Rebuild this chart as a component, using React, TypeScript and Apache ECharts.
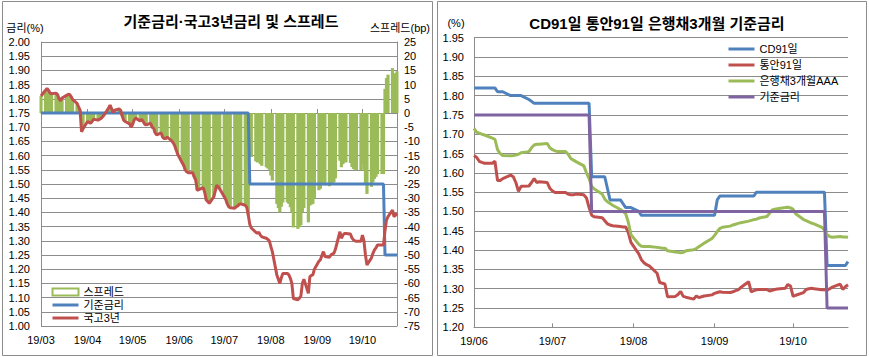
import React, { useEffect, useRef } from "react";
import * as echarts from "echarts";

// ---------- Left chart: 기준금리·국고3년금리 및 스프레드 ----------
const leftTitle = "기준금리·국고3년금리 및 스프레드";
const leftStart = "2019-03-01";
const leftEnd = "2019-10-24";
const leftWeekStart = "2019-02-25"; // Monday of first weekly row (Mon..Fri)

// 국고3년 (%), weekdays Mon..Fri
const gov3Weeks: (number | null)[][] = [
  [null, null, null, null, 1.81],
  [1.83, 1.837, 1.83, 1.82, 1.818],
  [1.82, 1.815, 1.8, 1.793, 1.803],
  [1.812, 1.815, 1.816, 1.808, 1.798],
  [1.784, 1.772, 1.76, 1.684, 1.695],
  [1.72, 1.717, 1.714, 1.72, 1.728],
  [1.725, 1.728, 1.731, 1.737, 1.743],
  [1.767, 1.778, 1.765, 1.752, 1.76],
  [1.764, 1.76, 1.74, 1.725, 1.72],
  [1.712, 1.7, 1.71, 1.725, 1.732],
  [1.722, 1.728, 1.72, 1.711, 1.708],
  [1.714, 1.7, 1.696, 1.68, 1.673],
  [1.68, 1.665, 1.66, 1.66, 1.665],
  [1.652, 1.645, 1.635, 1.62, 1.605],
  [1.575, 1.565, 1.55, 1.543, 1.54],
  [1.54, 1.525, 1.514, 1.478, 1.48],
  [1.487, 1.47, 1.444, 1.438, 1.432],
  [1.455, 1.475, 1.496, 1.49, 1.482],
  [1.455, 1.445, 1.43, 1.42, 1.416],
  [1.415, 1.42, 1.423, 1.428, 1.43],
  [1.425, 1.418, 1.39, 1.358, 1.345],
  [1.33, 1.326, 1.33, 1.32, 1.314],
  [1.309, 1.305, 1.3, 1.28, 1.262],
  [1.18, 1.165, 1.15, 1.17, 1.185],
  [1.185, 1.18, 1.168, 1.15, 1.097],
  [1.092, 1.098, 1.105, 1.15, 1.165],
  [1.115, 1.174, 1.178, 1.18, 1.2],
  [1.228, 1.233, 1.248, 1.262, 1.245],
  [1.242, 1.25, 1.254, 1.256, 1.27],
  [1.332, 1.309, 1.32, 1.326, 1.326],
  [1.324, 1.31, 1.303, 1.3, 1.298],
  [1.298, 1.32, 1.3, 1.25, 1.215],
  [1.24, 1.256, 1.268, 1.275, 1.285],
  [1.285, 1.285, 1.335, 1.373, 1.385],
  [1.408, 1.385, 1.39, 1.397, null],
];

// 스프레드 (bp), weekdays Mon..Fri
const spreadWeeks: (number | null)[][] = [
  [null, null, null, null, 6],
  [8, 8.7, 8, 7, 6.8],
  [7, 6.5, 5, 4.3, 5.3],
  [6.2, 6.5, 6.6, 5.8, 4.8],
  [3.4, 2.2, 1, -6.6, -5.5],
  [-3, -3.3, -3.6, -3, -2.2],
  [-2.5, -2.2, -1.9, -1.3, -0.7],
  [1.7, 2.8, 1.5, 0.2, 1],
  [1.4, 1, -1, -2.5, -3],
  [-3.8, -5, -4, -2.5, -1.8],
  [-2.8, -2.2, -3, -3.9, -4.2],
  [-3.6, -5, -5.4, -7, -7.7],
  [-7, -8.5, -9, -9, -8.5],
  [-9.8, -10.5, -11.5, -13, -14.5],
  [-17.5, -18.5, -20, -20.7, -21],
  [-21, -22.5, -23.6, -27.2, -27],
  [-26.3, -28, -30.6, -31.2, -31.8],
  [-29.5, -27.5, -25.4, -26, -26.8],
  [-29.5, -30.5, -32, -33, -33.4],
  [-33.5, -33, -32.7, -32.2, -32],
  [-32.5, -33.2, -36, -14.2, -15.5],
  [-17, -17.4, -17, -18, -18.6],
  [-19.1, -19.5, -20, -22, -23.8],
  [-32, -33.5, -35, -33, -31.5],
  [-31.5, -32, -33.2, -35, -40.3],
  [-40.8, -40.2, -39.5, -35, -33.5],
  [-38.5, -32.6, -32.2, -32, -30],
  [-27.2, -26.7, -25.2, -23.8, -25.5],
  [-25.8, -25, -24.6, -24.4, -23],
  [-16.8, -19.1, -18, -17.4, -17.4],
  [-17.6, -19, -19.7, -20, -20.2],
  [-20.2, -18, -20, -25, -28.5],
  [-26, -24.4, -23.2, -22.5, -21.5],
  [-21.5, -21.5, 8.5, 12.3, 13.5],
  [15.8, 13.5, 14, 14.7, null],
];

// 기준금리 (%), step points
const baseLeft: [string, number][] = [
  ["2019-03-01", 1.75],
  ["2019-07-17", 1.75],
  ["2019-07-18", 1.5],
  ["2019-10-15", 1.5],
  ["2019-10-16", 1.25],
  ["2019-10-24", 1.25],
];

// ---------- Right chart: CD91일 통안91일 은행채3개월 기준금리 ----------
const rightTitle = "CD91일 통안91일 은행채3개월 기준금리";
const rightStart = "2019-06-03";
const rightEnd = "2019-10-24";
const rightWeekStart = "2019-06-03";

const cd91Weeks: (number | null)[][] = [
  [1.82, 1.82, 1.82, 1.82, 1.82],
  [1.82, 1.82, 1.81, 1.81, 1.81],
  [1.8, 1.8, 1.8, 1.8, 1.8],
  [1.79, 1.785, 1.78, 1.78, 1.78],
  [1.78, 1.78, 1.78, 1.78, 1.78],
  [1.78, 1.78, 1.78, 1.78, 1.78],
  [1.78, 1.78, 1.78, 1.59, 1.59],
  [1.59, 1.59, 1.56, 1.53, 1.53],
  [1.53, 1.52, 1.51, 1.51, 1.51],
  [1.5, 1.49, 1.49, 1.49, 1.49],
  [1.49, 1.49, 1.49, 1.49, 1.49],
  [1.49, 1.49, 1.49, 1.49, 1.49],
  [1.49, 1.49, 1.49, 1.49, 1.49],
  [1.49, 1.49, 1.53, 1.54, 1.54],
  [1.54, 1.54, 1.54, 1.54, 1.54],
  [1.54, 1.54, 1.54, 1.55, 1.55],
  [1.55, 1.55, 1.55, 1.55, 1.55],
  [1.55, 1.55, 1.55, 1.55, 1.55],
  [1.55, 1.55, 1.55, 1.55, 1.55],
  [1.55, 1.55, 1.36, 1.36, 1.36],
  [1.36, 1.36, 1.36, 1.37, null],
];

const msb91Weeks: (number | null)[][] = [
  [1.645, 1.64, 1.63, 1.627, 1.625],
  [1.625, 1.63, 1.58, 1.58, 1.585],
  [1.594, 1.59, 1.575, 1.552, 1.565],
  [1.566, 1.575, 1.585, 1.575, 1.577],
  [1.575, 1.56, 1.553, 1.549, 1.549],
  [1.549, 1.545, 1.543, 1.543, 1.545],
  [1.543, 1.535, 1.51, 1.49, 1.486],
  [1.484, 1.476, 1.468, 1.465, 1.463],
  [1.461, 1.46, 1.46, 1.445, 1.42],
  [1.39, 1.375, 1.367, 1.362, 1.359],
  [1.34, 1.316, 1.314, 1.312, 1.279],
  [1.28, 1.285, 1.293, 1.28, 1.278],
  [1.273, 1.281, 1.277, 1.279, 1.281],
  [1.284, 1.288, 1.29, 1.292, 1.291],
  [1.29, 1.292, 1.295, 1.297, 1.303],
  [1.318, 1.292, 1.295, 1.297, 1.298],
  [1.298, 1.294, 1.296, 1.298, 1.299],
  [1.301, 1.311, 1.307, 1.28, 1.283],
  [1.29, 1.298, 1.3, 1.301, 1.3],
  [1.297, 1.297, 1.296, 1.3, 1.304],
  [1.312, 1.298, 1.305, 1.31, null],
];

const bank3mWeeks: (number | null)[][] = [
  [1.715, 1.705, 1.703, 1.7, 1.698],
  [1.69, 1.687, 1.66, 1.65, 1.645],
  [1.644, 1.645, 1.646, 1.648, 1.652],
  [1.655, 1.665, 1.672, 1.674, 1.674],
  [1.676, 1.665, 1.66, 1.657, 1.655],
  [1.655, 1.648, 1.637, 1.633, 1.629],
  [1.618, 1.6, 1.585, 1.565, 1.558],
  [1.545, 1.532, 1.525, 1.521, 1.516],
  [1.505, 1.5, 1.494, 1.472, 1.44],
  [1.415, 1.41, 1.409, 1.409, 1.409],
  [1.407, 1.406, 1.405, 1.405, 1.398],
  [1.395, 1.394, 1.393, 1.394, 1.398],
  [1.401, 1.404, 1.409, 1.413, 1.418],
  [1.43, 1.438, 1.448, 1.456, 1.459],
  [1.462, 1.465, 1.467, 1.469, 1.471],
  [1.475, 1.477, 1.479, 1.48, 1.483],
  [1.487, 1.495, 1.504, 1.506, 1.507],
  [1.51, 1.511, 1.509, 1.506, 1.494],
  [1.479, 1.476, 1.473, 1.47, 1.468],
  [1.459, 1.452, 1.44, 1.435, 1.433],
  [1.435, 1.434, 1.434, 1.433, null],
];

const baseRight: [string, number][] = [
  ["2019-06-03", 1.75],
  ["2019-07-17", 1.75],
  ["2019-07-18", 1.5],
  ["2019-10-15", 1.5],
  ["2019-10-16", 1.25],
  ["2019-10-24", 1.25],
];

// ---------- helpers ----------
const DAY = 86400000;
function toTime(s: string) {
  return Date.parse(s + "T00:00:00Z");
}
function fmt(t: number) {
  return new Date(t).toISOString().slice(0, 10);
}
function dayList(start: string, end: string) {
  const out: string[] = [];
  for (let t = toTime(start); t <= toTime(end); t += DAY) out.push(fmt(t));
  return out;
}
function indexOf(days: string[]) {
  const m = new Map<string, number>();
  days.forEach((d, i) => m.set(d, i));
  return m;
}
function weekly(weekStart: string, rows: (number | null)[][], idx: Map<string, number>) {
  const out: [number, number][] = [];
  const t0 = toTime(weekStart);
  rows.forEach((row, k) =>
    row.forEach((v, j) => {
      if (v == null) return;
      const i = idx.get(fmt(t0 + (7 * k + j) * DAY));
      if (i !== undefined) out.push([i, v]);
    })
  );
  return out;
}
function pairs(list: [string, number][], idx: Map<string, number>) {
  return list
    .filter(([d]) => idx.has(d))
    .map(([d, v]) => [idx.get(d) as number, v] as [number, number]);
}

const FONT = "'Noto Sans CJK KR', 'Noto Sans', sans-serif";
const NUMFONT = "'Liberation Sans', Arial, sans-serif";
const TXTFONT = "'Liberation Sans', 'Noto Sans CJK KR', sans-serif";
const AXIS = "#8c8c8c";
const GRID = "#8c8c8c";
const BLUE = "#4F81BD";
const RED = "#C0504D";
const GREEN = "#9BBB59";
const PURPLE = "#8064A2";

const monthLabel = (v: string) => v.slice(2, 4) + "/" + v.slice(5, 7);

function buildOption() {
  const leftDays = dayList(leftStart, leftEnd);
  const rightDays = dayList(rightStart, rightEnd);
  const li = indexOf(leftDays);
  const ri = indexOf(rightDays);
  const leftTick = (_: number, v: string) => v.endsWith("-01");
  const rightTick = (_: number, v: string) => v.endsWith("-03");

  const xCommon = (days: string[], tickFn: any, grid: number) => ({
    type: "category",
    gridIndex: grid,
    data: days,
    boundaryGap: false,
    axisLine: { lineStyle: { color: AXIS, width: 1 } },
    axisTick: { show: true, inside: true, length: 4, interval: tickFn, lineStyle: { color: AXIS } },
    axisLabel: {
      interval: tickFn,
      formatter: monthLabel,
      color: "#000",
      fontSize: 11,
      fontFamily: NUMFONT,
      margin: 8,
    },
    splitLine: { show: false },
  });

  const lineLegend = (name: string, color: string) => ({
    name,
    lineStyle: { color, width: 3 },
    itemStyle: { color, opacity: 0, borderWidth: 0 },
  });

  return {
    animation: false,
    backgroundColor: "#fff",
    textStyle: { fontFamily: FONT },
    grid: [
      { left: 41, top: 42, width: 356, height: 284 },
      { left: 474, top: 37.7, width: 374, height: 289.6 },
    ],
    xAxis: [xCommon(leftDays, leftTick, 0), xCommon(rightDays, rightTick, 1)],
    yAxis: [
      {
        type: "value",
        gridIndex: 0,
        min: 1.0,
        max: 2.0,
        interval: 0.05,
        axisLine: { show: true, lineStyle: { color: AXIS } },
        axisTick: { show: false },
        axisLabel: { formatter: (v: number) => v.toFixed(2), color: "#000", fontSize: 11, margin: 11, fontFamily: NUMFONT },
        splitLine: { show: true, lineStyle: { color: GRID, width: 1 } },
      },
      {
        type: "value",
        gridIndex: 0,
        position: "right",
        min: -75,
        max: 25,
        interval: 5,
        axisLine: { show: true, lineStyle: { color: AXIS } },
        axisTick: { show: false },
        axisLabel: { color: "#000", fontSize: 11, margin: 7, fontFamily: NUMFONT },
        splitLine: { show: false },
      },
      {
        type: "value",
        gridIndex: 1,
        min: 1.2,
        max: 1.95,
        interval: 0.05,
        axisLine: { show: true, lineStyle: { color: AXIS } },
        axisTick: { show: false },
        axisLabel: { formatter: (v: number) => v.toFixed(2), color: "#000", fontSize: 11, margin: 10, fontFamily: NUMFONT },
        splitLine: { show: true, lineStyle: { color: GRID, width: 1 } },
      },
    ],
    legend: [
      {
        orient: "vertical",
        left: 51,
        top: 286,
        padding: 0,
        itemWidth: 26,
        itemHeight: 7,
        itemGap: 1,
        selectedMode: false,
        textStyle: { fontSize: 11, color: "#000", fontFamily: TXTFONT, lineHeight: 12 },
        data: [
          { name: "스프레드", icon: "rect", itemStyle: { color: "#ffffff", borderColor: GREEN, borderWidth: 2 } },
          lineLegend("기준금리", BLUE),
          lineLegend("국고3년", RED),
        ],
      },
      {
        orient: "vertical",
        left: 727,
        top: 43,
        padding: 0,
        itemWidth: 26,
        itemHeight: 7,
        itemGap: 4,
        selectedMode: false,
        textStyle: { fontSize: 11, color: "#000", fontFamily: TXTFONT, lineHeight: 12 },
        data: [
          lineLegend("CD91일", BLUE),
          lineLegend("통안91일", RED),
          lineLegend("은행채3개월AAA", GREEN),
          lineLegend("기준금리", PURPLE),
        ],
      },
    ],
    series: [
      {
        name: "스프레드",
        type: "bar",
        xAxisIndex: 0,
        yAxisIndex: 1,
        barWidth: 3.2,
        itemStyle: { color: GREEN },
        data: weekly(leftWeekStart, spreadWeeks, li),
      },
      {
        name: "기준금리",
        type: "line",
        xAxisIndex: 0,
        yAxisIndex: 0,
        symbol: "none",
        lineStyle: { width: 3, color: BLUE },
        itemStyle: { color: BLUE },
        data: pairs(baseLeft, li),
      },
      {
        name: "국고3년",
        type: "line",
        xAxisIndex: 0,
        yAxisIndex: 0,
        symbol: "none",
        lineStyle: { width: 3, color: RED },
        itemStyle: { color: RED },
        data: weekly(leftWeekStart, gov3Weeks, li),
      },
      {
        name: "CD91일",
        type: "line",
        xAxisIndex: 1,
        yAxisIndex: 2,
        symbol: "none",
        lineStyle: { width: 3, color: BLUE },
        itemStyle: { color: BLUE },
        data: weekly(rightWeekStart, cd91Weeks, ri),
      },
      {
        name: "통안91일",
        type: "line",
        xAxisIndex: 1,
        yAxisIndex: 2,
        symbol: "none",
        lineStyle: { width: 3, color: RED },
        itemStyle: { color: RED },
        data: weekly(rightWeekStart, msb91Weeks, ri),
      },
      {
        name: "은행채3개월AAA",
        type: "line",
        xAxisIndex: 1,
        yAxisIndex: 2,
        symbol: "none",
        lineStyle: { width: 3, color: GREEN },
        itemStyle: { color: GREEN },
        data: weekly(rightWeekStart, bank3mWeeks, ri),
      },
      {
        name: "기준금리",
        type: "line",
        xAxisIndex: 1,
        yAxisIndex: 2,
        symbol: "none",
        lineStyle: { width: 3, color: PURPLE },
        itemStyle: { color: PURPLE },
        data: pairs(baseRight, ri),
      },
    ],
    graphic: [
      { type: "rect", silent: true, shape: { x: 2.5, y: 1.5, width: 430, height: 354 }, style: { fill: "none", stroke: AXIS, lineWidth: 1 } },
      { type: "rect", silent: true, shape: { x: 437.5, y: 1.5, width: 429, height: 354 }, style: { fill: "none", stroke: AXIS, lineWidth: 1 } },
      { type: "text", x: 231, y: 21, style: { text: leftTitle, font: `bold 15px ${TXTFONT}`, fill: "#000", align: "center", verticalAlign: "middle" } },
      { type: "text", x: 657, y: 23, style: { text: rightTitle, font: `bold 15px ${TXTFONT}`, fill: "#000", align: "center", verticalAlign: "middle" } },
      { type: "text", x: 25, y: 28, style: { text: "금리(%)", font: `11px ${TXTFONT}`, fill: "#000", align: "center", verticalAlign: "middle" } },
      { type: "text", x: 400, y: 28, style: { text: "스프레드(bp)", font: `11px ${TXTFONT}`, fill: "#000", align: "center", verticalAlign: "middle" } },
      { type: "text", x: 456, y: 23, style: { text: "(%)", font: `11px ${TXTFONT}`, fill: "#000", align: "center", verticalAlign: "middle" } },
    ],
  };
}

export default function App() {
  const ref = useRef<HTMLDivElement>(null);
  useEffect(() => {
    if (!ref.current) return;
    const chart = echarts.init(ref.current, undefined, { renderer: "svg", width: 869, height: 357 });
    chart.setOption(buildOption() as any);
    return () => chart.dispose();
  }, []);
  return (
    <div
      ref={ref}
      style={{ position: "fixed", left: 0, top: 0, width: 869, height: 357, background: "#fff" }}
    />
  );
}
